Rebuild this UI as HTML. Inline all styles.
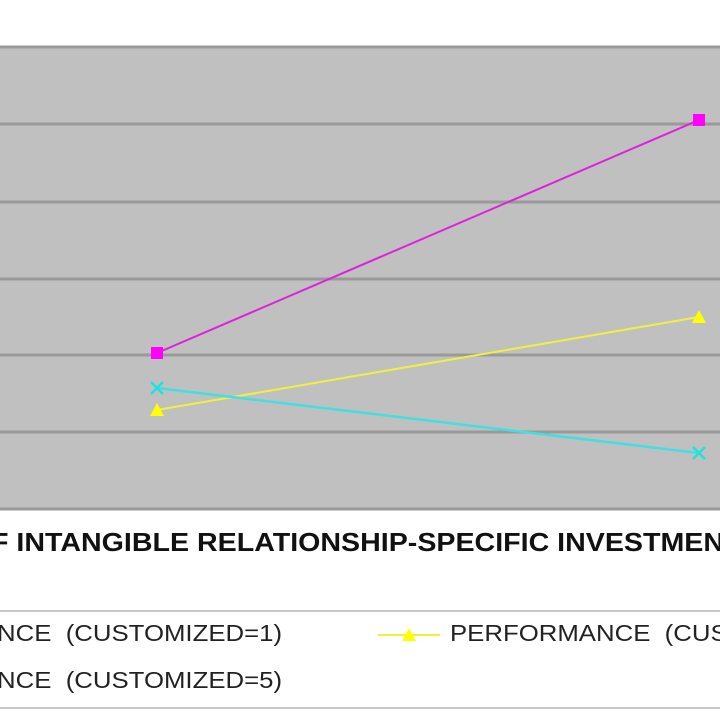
<!DOCTYPE html>
<html><head><style>
body{margin:0;width:720px;height:720px;background:#fff;overflow:hidden;position:relative;font-family:"Liberation Sans",Arial,sans-serif}
.t{position:absolute;white-space:nowrap;transform-origin:0 0}
</style></head><body>
<svg width="720" height="720" style="position:absolute;left:0;top:0">
<rect x="0" y="46" width="720" height="464" fill="#c0c0c0"/>
<g stroke="#9a9a9a" stroke-width="3">
<line x1="0" y1="47" x2="720" y2="47"/>
<line x1="0" y1="124" x2="720" y2="124"/>
<line x1="0" y1="202" x2="720" y2="202"/>
<line x1="0" y1="279" x2="720" y2="279"/>
<line x1="0" y1="355" x2="720" y2="355"/>
<line x1="0" y1="432" x2="720" y2="432"/>
<line x1="0" y1="509" x2="720" y2="509"/>
</g>
<line x1="157" y1="353" x2="699" y2="120" stroke="#e020e0" stroke-width="2"/>
<rect x="151" y="347" width="12" height="12" fill="#ff00ff"/>
<rect x="693" y="114" width="12" height="12" fill="#ff00ff"/>
<line x1="157" y1="410" x2="699" y2="317" stroke="#f0f040" stroke-width="2"/>
<polygon points="157,403 164,416 150,416" fill="#ffff00"/>
<polygon points="699,310 706,323 692,323" fill="#ffff00"/>
<line x1="157" y1="388" x2="699" y2="453" stroke="#40e0e0" stroke-width="2.5"/>
<g stroke="#20e0e0" stroke-width="2.5"><line x1="151" y1="382" x2="163" y2="394"/><line x1="163" y1="382" x2="151" y2="394"/><line x1="693" y1="447" x2="705" y2="459"/><line x1="705" y1="447" x2="693" y2="459"/></g>
<rect x="-5" y="611" width="740" height="97" fill="#fff" stroke="#c8c8c8" stroke-width="2"/>
<line x1="378" y1="635" x2="440" y2="635" stroke="#f0f040" stroke-width="2"/>
<polygon points="409,628 416,641 402,641" fill="#ffff00"/>
</svg>
<div class="t" style="left:-9px;top:527px;font-size:26px;font-weight:bold;color:#111;transform:scaleX(1.1)">F INTANGIBLE RELATIONSHIP-SPECIFIC INVESTMEN</div>
<div class="t" style="left:-3px;top:620px;font-size:23px;color:#222;transform:scaleX(1.12)">NCE&nbsp; (CUSTOMIZED=1)</div>
<div class="t" style="left:450px;top:620px;font-size:23px;color:#222;transform:scaleX(1.12)">PERFORMANCE&nbsp; (CUS</div>
<div class="t" style="left:-3px;top:667px;font-size:23px;color:#222;transform:scaleX(1.12)">NCE&nbsp; (CUSTOMIZED=5)</div>
</body></html>
